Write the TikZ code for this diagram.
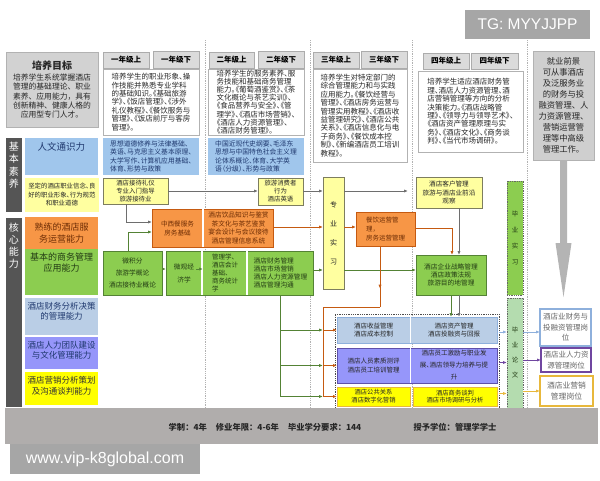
\documentclass[tikz,border=0pt]{standalone}
\usepackage{fontspec}
\setmainfont{Noto Sans CJK SC}
\newfontfamily\cjkp[RawFeature={+palt}]{Noto Sans CJK SC}
\newfontfamily\lat{Liberation Sans}
\XeTeXlinebreaklocale "zh"
\XeTeXlinebreakskip = 0pt plus 1pt
\usetikzlibrary{arrows.meta,calc,decorations.markings}

\definecolor{lblue}{RGB}{160,198,236}
\definecolor{pblue}{RGB}{186,206,230}
\definecolor{lav}{RGB}{150,150,250}
\definecolor{yel}{RGB}{255,255,0}
\definecolor{lyel}{RGB}{255,255,160}
\definecolor{org}{RGB}{247,150,70}
\definecolor{orgd}{RGB}{197,90,17}
\definecolor{grn}{RGB}{140,205,80}
\definecolor{grnd}{RGB}{84,130,53}
\definecolor{mint}{RGB}{180,220,175}
\definecolor{dbar}{RGB}{85,85,85}
\definecolor{bandc}{RGB}{176,173,172}
\definecolor{tgc}{RGB}{166,166,166}
\definecolor{navy}{RGB}{31,56,110}
\definecolor{brn}{RGB}{110,45,5}
\definecolor{gtext}{RGB}{35,60,20}
\definecolor{ybord}{RGB}{125,125,95}
\definecolor{arrg}{RGB}{110,110,110}
\definecolor{jblue}{RGB}{142,176,220}
\definecolor{jpurp}{RGB}{112,70,160}
\definecolor{jgold}{RGB}{232,184,60}
\definecolor{bigg}{RGB}{180,180,180}
\definecolor{rpur}{RGB}{95,80,170}

\newcommand\bx[7]{%
 \pgfmathsetmacro\bxw{#4-#2}\pgfmathsetmacro\bxh{#5-#3}%
 \node[#6, anchor=north west, minimum width=\bxw pt, minimum height=\bxh pt] (#1) at (#2,-#3) {#7};}
\newcommand\bxt[8]{%
 \bx{#1}{#2}{#3}{#4}{#5}{#6}{}%
 \node[#7, anchor=north, inner sep=0pt] (#1t) at ($(#1.north)+(0,-4)$) {#8};}

\tikzset{
 every node/.style={outer sep=0pt},
 tab/.style={draw=gray!65, fill=gray!28, font=\bfseries\fontsize{7.5}{8}\selectfont, inner sep=0pt},
 txt/.style={draw=gray!60, fill=white, align=left, text=black!85, font=\cjkp\fontsize{7.5}{8.4}\selectfont, inner sep=1pt},
 bluebox/.style={fill=lblue, align=left, text=navy, font=\cjkp\fontsize{6.8}{8.4}\selectfont, inner sep=1pt},
 ybox/.style={fill=lyel, draw=ybord, line width=0.8pt, align=center, text=black!85, font=\fontsize{6.4}{8}\selectfont, inner sep=1pt},
 obox/.style={fill=org, align=center, text=brn, font=\fontsize{6.6}{9}\selectfont, inner sep=1pt},
 gbox/.style={fill=grn, align=center, text=gtext, font=\fontsize{6.7}{8.2}\selectfont, inner sep=1pt},
 rbox/.style={align=center, text=black!85, font=\fontsize{6.5}{8.4}\selectfont, inner sep=1pt},
 jbox/.style={fill=white, line width=1.1pt, align=center, text=black!60, font=\fontsize{7.5}{10.5}\selectfont, inner sep=1pt},
 vt/.style={text=white, align=center, font=\fontsize{10}{12.5}\selectfont},
 ar/.style={-{Latex[length=4pt,width=3.2pt]}, line width=0.8pt},
 garrow/.style={ar, draw=arrg},
 gnarrow/.style={ar, draw=grnd},
 oarrow/.style={ar, draw=orgd},
 gnline/.style={line width=0.8pt, draw=grnd},
 oline/.style={line width=0.8pt, draw=orgd},
 divider/.style={gray!60, densely dotted, line width=0.8pt},
 midarrow/.style={postaction={decorate}, decoration={markings, mark=at position 0.7 with {\arrow{Latex[length=4pt,width=3.2pt]}}}}
}

\begin{document}
\begin{tikzpicture}[x=1pt,y=1pt]
\useasboundingbox (0,0) rectangle (600,-480);
\fill[white] (0,0) rectangle (600,-480);

% dotted year dividers
\foreach \xx/\nm in {205/d1,310/d2,412/d3,527/d4}{
  \coordinate (\nm t) at (\xx,-40);
  \coordinate (\nm b) at (\xx,-408);
  \draw[divider] (\nm t) -- (\nm b);
}

% TG box
\bx{tg}{465}{10}{590}{39}{fill=tgc, text=white, font=\lat\fontsize{15.5}{15.5}\selectfont}{TG: MYYJJPP}

% goal
\bx{goal}{6}{52}{98}{127}{fill=gray!35, draw=gray!60, align=center, text=black!85, font=\fontsize{7.8}{9.2}\selectfont}{{\bfseries\fontsize{10}{12}\selectfont 培养目标}\\[2pt]培养学生系统掌握酒店\\管理的基础理论、职业\\素养、应用能力，具有\\创新精神、健康人格的\\应用型专门人才。}

% tabs
\bx{t1a}{103}{52}{149}{68}{tab}{一年级上}
\bx{t1b}{153}{51}{199}{68}{tab}{一年级下}
\bx{t2a}{209}{52}{254}{68}{tab}{二年级上}
\bx{t2b}{258}{51}{304}{68}{tab}{二年级下}
\bx{t3a}{313}{52}{359}{68}{tab}{三年级上}
\bx{t3b}{361}{51}{407}{68}{tab}{三年级下}
\bx{t4a}{423}{53}{469}{69}{tab}{四年级上}
\bx{t4b}{471}{53}{518}{69}{tab}{四年级下}

% year texts
\bx{y1}{103}{69}{199}{135}{txt}{培养学生的职业形象、操\\作技能并熟悉专业学科\\的基础知识。《基础旅游\\学》、《饭店管理》、《涉外\\礼仪教程》、《餐饮服务与\\管理》、《饭店前厅与客房\\管理》。}
\bx{y2}{208}{69}{304}{135}{txt, font=\cjkp\fontsize{7.5}{8.1}\selectfont}{培养学生的服务素养、服\\务技能和基础商务管理\\能力。《葡萄酒鉴赏》、《茶\\文化概论与茶艺实训》、\\《食品营养与安全》、《管\\理学》、《酒店市场营销》、\\《酒店人力资源管理》、\\《酒店财务管理》。}
\bx{y3}{313}{69}{407}{162}{txt}{培养学生对特定部门的\\综合管理能力和与实践\\应用能力。《餐饮经营与\\管理》、《酒店房务运营与\\管理实用教程》、《酒店收\\益管理研究》、《酒店公共\\关系》、《酒店信息化与电\\子商务》、《餐饮成本控\\制》、《新编酒店员工培训\\教程》。}
\bx{y4}{418}{71}{523}{152}{txt}{培养学生适应酒店财务管\\理、酒店人力资源管理、酒\\店营销管理等方向的分析\\决策能力。《酒店战略管\\理》、《领导力与领导艺术》、\\《酒店资产管理原理与实\\务》、《酒店文化》、《商务谈\\判》、《当代市场调研》。}

% blue boxes
\bx{b1}{103}{138}{199}{175}{bluebox}{思想道德修养与法律基础、\\英语、马克思主义基本原理、\\大学写作、计算机应用基础、\\体育、形势与政策}
\bx{b2}{208}{138}{304}{175}{bluebox}{中国近现代史纲要、毛泽东\\思想与中国特色社会主义理\\论体系概论、体育、大学英\\语（分级）、形势与政策}

% job prospects
\bx{job}{533}{51}{594}{160}{fill=gray!38, draw=gray!60, align=center, text=black!85, font=\fontsize{8.3}{11}\selectfont}{就业前景\\可从事酒店\\及泛服务业\\的财务与投\\融资管理、人\\力资源管理、\\营销运营管\\理等中高级\\管理工作。}
\fill[bigg] ($(job.south)+(-3.5,0)$) -- ++(7,0) -- ++(0,-83) -- ++(4.5,0) -- ($(job.south)+(0,-137)$) -- ($(job.south)+(-8,-83)$) -- ++(4.5,0) -- cycle;

% left column
\bx{barA}{6}{138}{22}{212}{fill=dbar}{}
\node[vt] (barAt) at ($(barA.north)+(0,-27)$) {基\\本\\素\\养};
\bx{barB}{6}{218}{22}{407}{fill=dbar}{}
\node[vt, font=\fontsize{10}{12}\selectfont] (barBt) at ($(barB.north)+(0,-28)$) {核\\心\\能\\力};

\bxt{renwen}{25}{138}{98}{175}{fill=lblue}{text=navy, font=\fontsize{9.5}{11}\selectfont}{人文通识力}
\bx{belief}{25}{178}{98}{212}{fill=lyel, align=center, text=black!85, font=\cjkp\fontsize{6.4}{8.5}\selectfont}{坚定的酒店职业信念、良\\好的职业形象、行为规范\\和职业道德}
\bx{svc}{25}{217}{98}{249}{fill=org, align=center, text=brn, font=\fontsize{9}{12}\selectfont}{熟练的酒店服\\务运营能力}
\bxt{biz}{25}{249}{98}{295}{fill=grn}{align=center, text=gtext, font=\fontsize{9}{11}\selectfont}{基本的商务管理\\应用能力}
\bxt{fin}{25}{298}{98}{335}{fill=pblue}{align=center, text=navy, font=\fontsize{8.5}{10.5}\selectfont}{酒店财务分析决策\\的管理能力}
\bxt{hr}{25}{337}{98}{369}{fill=lav}{align=center, text=navy, font=\fontsize{8.5}{10.5}\selectfont}{酒店人力团队建设\\与文化管理能力}
\bxt{mkt}{25}{372}{98}{405}{fill=yel}{align=center, text=black!80, font=\fontsize{8.5}{11}\selectfont}{酒店营销分析策划\\及沟通谈判能力}

% yellow middle boxes
\bx{ya}{103}{178}{168}{204}{ybox}{酒店接待礼仪\\专业入门指导\\旅游接待业}
\bx{yb}{258}{178}{303}{205}{ybox}{旅游消费者\\行为\\酒店英语}
\bx{prac}{323}{177}{344}{289}{ybox, font=\fontsize{7}{19}\selectfont}{专\\业\\实\\习}
\bx{cust}{416}{177}{482}{208}{ybox, font=\fontsize{6.6}{8.4}\selectfont}{酒店客户管理\\旅游与酒店业前沿\\观察}

% orange boxes
\bx{oa}{152}{209}{203}{247}{obox}{中西餐服务\\房务基础}
\bx{ob}{204}{209}{273}{247}{obox, font=\fontsize{6.7}{8.6}\selectfont}{酒店饮品知识与鉴赏\\茶文化与茶艺鉴赏\\宴会设计与会议接待\\酒店管理信息系统}
\draw[orgd, line width=0.8pt] (oa.north west) rectangle (ob.south east);
\draw[white, line width=1.2pt] (oa.north east) -- (oa.south east);
\bx{cy}{356}{212}{415}{246}{obox, draw=orgd, line width=0.8pt, align=left, font=\fontsize{6.5}{8.6}\selectfont}{餐饮运营管\\理，\\房务运营管理}

% green boxes
\bx{g1}{103}{251}{162}{295}{gbox, draw=grnd, line width=0.8pt, font=\fontsize{6.7}{12}\selectfont}{微积分\\旅游学概论\\酒店接待业概论}
\bx{ga}{166}{251}{202}{295}{gbox, font=\fontsize{6.7}{13}\selectfont}{微观经\\济学}
\bx{gb}{203}{251}{247}{295}{gbox, align=left, font=\fontsize{6.5}{7.8}\selectfont}{管理学、\\酒店会计\\基础、\\商务统计\\学}
\bx{gc}{248}{251}{313}{295}{gbox, align=left}{酒店财务管理\\酒店市场营销\\酒店人力资源管理\\酒店管理沟通}
\draw[grnd, line width=0.8pt] (ga.north west) rectangle (gc.south east);
\draw[white, line width=1.2pt] (ga.north east) -- (ga.south east);
\draw[white, line width=1.2pt] (gb.north east) -- (gb.south east);
\bx{strat}{416}{255}{486}{295}{gbox, draw=grnd, line width=1pt}{酒店企业战略管理\\酒店政策法规\\旅游目的地管理}

% bottom group
\bx{grp}{335}{314}{499}{408}{draw=black!70, densely dotted, line width=0.8pt}{}
\bx{r1a}{337}{317}{410}{343}{rbox, fill=pblue}{酒店收益管理\\酒店成本控制}
\bx{r1b}{411}{317}{497}{343}{rbox, fill=pblue}{酒店资产管理\\酒店投融资与回报}
\draw[jblue, line width=0.8pt] (r1a.north west) rectangle (r1b.south east);
\draw[white, densely dotted, line width=0.8pt] (r1a.north east) -- (r1a.south east);
\bx{r2a}{337}{348}{410}{383}{rbox, fill=lav}{酒店人员素质测评\\酒店员工培训管理}
\bx{r2b}{411}{348}{497}{383}{rbox, fill=lav, font=\cjkp\fontsize{6.5}{12}\selectfont}{酒店员工激励与职业发\\展、酒店领导力培养与提\\升}
\draw[rpur, line width=0.8pt] (r2a.north west) rectangle (r2b.south east);
\draw[white, densely dotted, line width=0.8pt] (r2a.north east) -- (r2a.south east);
\bx{r3a}{337}{387}{410}{406}{rbox, fill=yel, draw=jgold, font=\fontsize{6.3}{7.8}\selectfont}{酒店公共关系\\酒店数字化营销}
\bx{r3b}{413}{387}{497}{406}{rbox, fill=yel, draw=jgold, font=\fontsize{6.3}{7.8}\selectfont}{酒店商务谈判\\酒店市场调研与分析}

% graduation boxes
\bx{gp}{507}{181}{523}{295}{fill=grn, draw=black!60, densely dotted, line width=0.8pt, align=center, text=gtext, font=\fontsize{6.5}{16}\selectfont}{毕\\业\\实\\习}
\bx{gt}{507}{298}{523}{408}{fill=mint, draw=black!60, densely dotted, line width=0.8pt, align=center, text=gtext, font=\fontsize{6.5}{15}\selectfont}{毕\\业\\论\\文}

% job boxes
\bx{j1}{540}{309}{591}{346}{jbox, draw=jblue}{酒店业财务与\\投融资管理岗\\位}
\bx{j2}{541}{348}{591}{372}{jbox, draw=jpurp}{酒店业人力资\\源管理岗位}
\bx{j3}{540}{376}{593}{406}{jbox, draw=jgold, font=\fontsize{7.8}{11.5}\selectfont}{酒店业营销\\管理岗位}

% bottom band and website
\bx{band}{5}{408}{598}{444}{fill=bandc}{}
\node[font=\bfseries\fontsize{8.3}{9}\selectfont, text=black!85] (bt1) at (265,-427) {学制：4年\hspace{9pt}修业年限：4-6年\hspace{9pt}毕业学分要求：144};
\node[font=\bfseries\fontsize{8.3}{9}\selectfont, text=black!85] (bt2) at (455,-427) {授予学位：管理学学士};
\bx{web}{10}{444}{200}{474}{fill=tgc, text=white, font=\lat\fontsize{16}{16}\selectfont}{www.vip-k8global.com}

% ---------- connectors ----------
\draw[garrow] (ya.east) -- (ya.east -| yb.west);
\draw[garrow] (ya.east -| yb.east) -- (ya.east -| prac.west);
\draw[garrow] (ya.east -| prac.east) -- ($(ya.east -| cust.west)+(-8,0)$);
\draw[garrow] ([xshift=-9.5pt]ya.south) |- ([yshift=6pt]oa.west);
\draw[gnarrow] ([xshift=-4pt]g1.north) |- ([yshift=-4pt]oa.west);
\draw[oarrow] ([yshift=1pt]ob.east) -- ([yshift=1pt]ob.east -| prac.west);
\draw[oarrow] ([yshift=1pt]ob.east -| prac.east) -- ([yshift=1pt]ob.east -| cy.west);
\draw[gnarrow] ([yshift=4pt]g1.east) -- ([yshift=4pt]ga.west);
\draw[gnarrow] ([yshift=4pt,xshift=-6pt]ga.east) -- ([yshift=4pt]gb.west);
\draw[gnarrow] ([yshift=3pt]gc.east) -- ([yshift=3pt]gc.east -| prac.west);
\draw[gnarrow] ([yshift=3pt]gc.east -| prac.east) -- ([yshift=3pt]gc.east -| strat.west);
\draw[oarrow] ([yshift=1pt]cy.east) -| ([xshift=1pt]strat.north);
\draw[garrow] ([xshift=10pt]cust.south) -- ([xshift=10pt]cust.south |- strat.north);

% orange bus to bottom rows
\coordinate (obus) at (323,-307);
\coordinate (obusb) at (323,-397);
\draw[oline, midarrow] ([xshift=-5.5pt]cy.south) -- ([xshift=-5.5pt]cy.south |- obus);
\draw[oline] ([xshift=-5.5pt]cy.south |- obus) -- (obus) -- (obusb);
\draw[oarrow] (obus |- r1a.west) -- (r1a.west);
\draw[oarrow] (obus |- r2a.west) -- (r2a.west);
\draw[oarrow] (obus |- r3a.west) -- (r3a.west);

% green bus
\draw[gnline] (gc.south) -- (gc.south |- obusb);
\draw[gnarrow] (gc.south |- r1a.west) -- (obus |- r1a.west);
\draw[gnarrow] (gc.south |- r2a.west) -- (obus |- r2a.west);
\draw[gnarrow] (gc.south |- r3a.west) -- (obus |- r3a.west);

% strategy down
\draw[gnarrow] (strat.south) -- (strat.south |- r1b.north);
\draw[garrow] ([xshift=8pt]strat.south) -- ([xshift=8pt]strat.south |- r1b.north);

% to thesis and jobs
\draw[ar, draw=jblue] ([yshift=-2pt]grp.east |- r1b.east) -- ([yshift=-2pt]gt.west |- r1b.east);
\draw[ar, draw=jpurp] ([yshift=3pt]grp.east |- r2b.east) -- ([yshift=3pt]gt.west |- r2b.east);
\draw[ar, draw=jgold] ([yshift=3pt]grp.east |- r3b.east) -- ([yshift=3pt]gt.west |- r3b.east);
\draw[ar, draw=jblue] ([yshift=-2pt]gt.east |- r1b.east) -- ([yshift=-2pt]j1.west |- r1b.east);
\draw[ar, draw=jpurp] (gt.east |- j2.west) -- (j2.west);
\draw[ar, draw=jgold] (gt.east |- j3.west) -- (j3.west);
\end{tikzpicture}
\end{document}
